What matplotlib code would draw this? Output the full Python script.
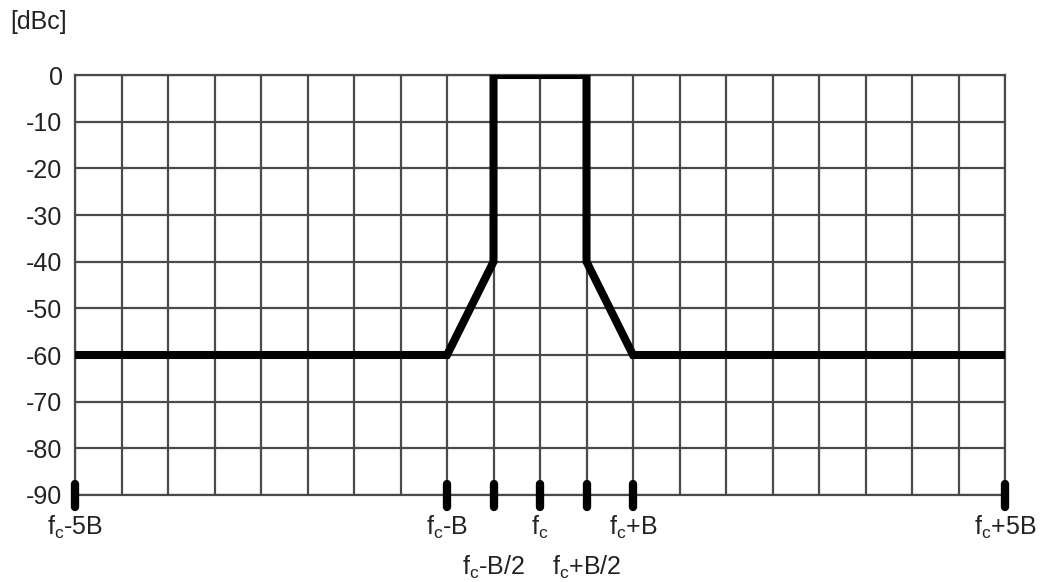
import numpy as np
import matplotlib.pyplot as plt

plt.rcParams['font.family'] = ['Liberation Sans', 'DejaVu Sans']
plt.rcParams['mathtext.fontset'] = 'custom'
plt.rcParams['mathtext.rm'] = 'Liberation Sans'
plt.rcParams['mathtext.it'] = 'Liberation Sans'
plt.rcParams['axes.unicode_minus'] = False

# spectrum mask, x in units of B relative to fc
mask_x = [-5, -1, -0.5, -0.5, 0.5, 0.5, 1, 5]
mask_y = [-60, -60, -40, 0, 0, -40, -60, -60]

y_ticks = list(range(-90, 1, 10))
marker_x = [-5, -1, -0.5, 0, 0.5, 1, 5]
marker_labels = [r'f$_\mathrm{c}$-5B', r'f$_\mathrm{c}$-B', r'f$_\mathrm{c}$-B/2', r'f$_\mathrm{c}$',
                 r'f$_\mathrm{c}$+B/2', r'f$_\mathrm{c}$+B', r'f$_\mathrm{c}$+5B']
marker_row = [0, 0, 1, 0, 1, 0, 0]

FS = 18

fig = plt.figure(figsize=(10.42, 5.82), dpi=100)
ax = fig.add_axes([0.072, 0.1495, 0.8925, 0.7216])

ax.set_xlim(-5, 5)
ax.set_ylim(-90, 0)
ax.set_xticks(np.arange(-5, 5.01, 0.5))
ax.set_yticks(y_ticks)
ax.set_xticklabels([])
ax.tick_params(length=0, labelsize=FS, pad=9, colors='#222222')
ax.grid(True, color='#4a4a4a', linewidth=1.6)
for s in ax.spines.values():
    s.set_color('#4a4a4a')
    s.set_linewidth(1.6)

ax.plot(mask_x, mask_y, color='black', linewidth=5.8, solid_joinstyle='miter',
        solid_capstyle='round', zorder=5)

for x, lab, row in zip(marker_x, marker_labels, marker_row):
    ax.plot([x, x], [-92.5, -87.6], color='black', linewidth=6,
            solid_capstyle='round', clip_on=False, zorder=6)
    ax.annotate(lab, xy=(x, -90), xytext=(0, -32 - 40 * row), textcoords='offset pixels',
                ha='center', va='center', fontsize=FS, color='#222222',
                annotation_clip=False)

fig.text(10 / 1042, 1 - 22 / 582, '[dBc]', fontsize=FS, color='#222222',
         ha='left', va='center')

fig.savefig('out.png', dpi=100)
